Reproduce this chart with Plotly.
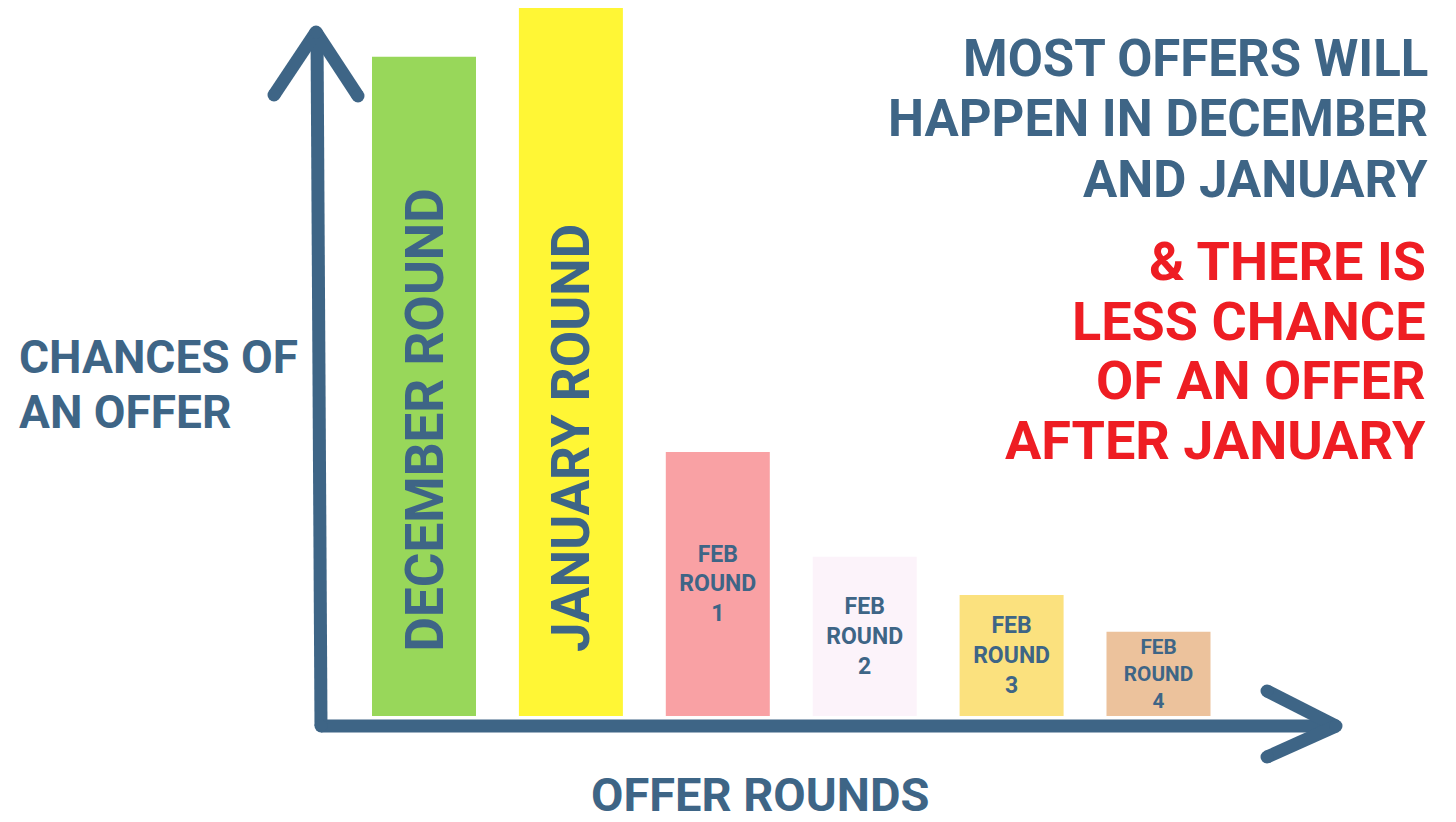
import plotly.graph_objects as go

# ---- data ----
rounds = ["December round", "January round", "Feb round 1", "Feb round 2", "Feb round 3", "Feb round 4"]
chance = [93.1, 100.0, 37.3, 22.5, 17.1, 11.9]
bar_colors = ["#98d75a", "#fff635", "#f9a1a4", "#fcf3fa", "#fbe17e", "#ecc29c"]
bar_labels = ["", "", "FEB<br>ROUND<br>1", "FEB<br>ROUND<br>2", "FEB<br>ROUND<br>3", "FEB<br>ROUND<br>4"]
big_labels = {"December round": "DECEMBER ROUND", "January round": "JANUARY ROUND"}
title_blue = ["MOST OFFERS WILL", "HAPPEN IN DECEMBER", "AND JANUARY"]
title_red = ["&amp; THERE IS", "LESS CHANCE", "OF AN OFFER", "AFTER JANUARY"]

W, H = 1456, 822
BLUE = "#3e6586"
RED = "#ee1d23"
FONT = "Roboto, DejaVu Sans Condensed, sans-serif"


def px(x):
    return x / W


def py(y):
    return 1 - y / H


fig = go.Figure()
fig.add_trace(go.Bar(
    x=rounds, y=chance,
    marker=dict(color=bar_colors, line=dict(width=0)),
    width=0.708,
    text=bar_labels,
    textposition="inside",
    insidetextanchor="middle",
    textangle=0,
    textfont=dict(family=FONT, size=23, color=BLUE, weight="bold"),
    hoverinfo="x+y",
    showlegend=False,
))

# axis arrows (drawn as shapes, round ends added with small circles)
lw = 13
segments = [
    ((317, 32), (321, 726)),
    ((321, 726), (1336, 726)),
    ((316, 32), (274, 95)),
    ((316, 32), (358, 96)),
    ((1336, 726), (1267, 691)),
    ((1336, 726), (1267, 757)),
]
shapes = []
for (xa, ya), (xb, yb) in segments:
    shapes.append(dict(type="line", xref="paper", yref="paper",
                       x0=px(xa), y0=py(ya), x1=px(xb), y1=py(yb),
                       line=dict(color=BLUE, width=lw)))
r = lw / 2
for (cx, cy) in [(316, 32), (274, 95), (358, 96), (321, 726), (1336, 726), (1267, 691), (1267, 757)]:
    shapes.append(dict(type="circle", xref="paper", yref="paper",
                       x0=px(cx - r), x1=px(cx + r), y0=py(cy + r), y1=py(cy - r),
                       fillcolor=BLUE, line=dict(width=0)))

annotations = []
# big rotated labels for Dec/Jan bars
for cat, txt in big_labels.items():
    annotations.append(dict(
        x=cat, y=0, xref="x", yref="y", text=txt, textangle=-90,
        showarrow=False, xanchor="center", yanchor="bottom", yshift=62,
        font=dict(family=FONT, size=53, color=BLUE, weight="bold")))

# axis titles
annotations.append(dict(x=px(17), y=py(357), xref="paper", yref="paper", text="CHANCES OF",
                        showarrow=False, xanchor="left", yanchor="middle",
                        font=dict(family=FONT, size=46, color=BLUE, weight="bold")))
annotations.append(dict(x=px(17), y=py(412), xref="paper", yref="paper", text="AN OFFER",
                        showarrow=False, xanchor="left", yanchor="middle",
                        font=dict(family=FONT, size=46, color=BLUE, weight="bold")))
annotations.append(dict(x=px(760), y=py(794), xref="paper", yref="paper", text="OFFER ROUNDS",
                        showarrow=False, xanchor="center", yanchor="middle",
                        font=dict(family=FONT, size=47, color=BLUE, weight="bold")))

# message text
for i, t in enumerate(title_blue):
    annotations.append(dict(x=px(1430), y=py(58 + 61 * i), xref="paper", yref="paper", text=t,
                            showarrow=False, xanchor="right", yanchor="middle",
                            font=dict(family=FONT, size=51, color=BLUE, weight="bold")))
for i, t in enumerate(title_red):
    annotations.append(dict(x=px(1428), y=py(262 + 59.5 * i), xref="paper", yref="paper", text=t,
                            showarrow=False, xanchor="right", yanchor="middle",
                            font=dict(family=FONT, size=54, color=RED, weight="bold")))

# category axis mapped so bars land where the drawing puts them
spacing = 146.9
r0 = -424 / spacing
r1 = r0 + W / spacing
y_top = 716 / 7.08
y_bot = -(H - 716) / 7.08

fig.update_layout(
    width=W, height=H, autosize=False,
    margin=dict(l=0, r=0, t=0, b=0, pad=0),
    paper_bgcolor="white", plot_bgcolor="white",
    xaxis=dict(type="category", range=[r0, r1], visible=False, fixedrange=True),
    yaxis=dict(range=[y_bot, y_top], visible=False, fixedrange=True),
    shapes=shapes,
    annotations=annotations,
    barmode="overlay",
)

fig.write_html("out.html", config={"displayModeBar": False},
               post_script="document.body.style.margin='0';")
